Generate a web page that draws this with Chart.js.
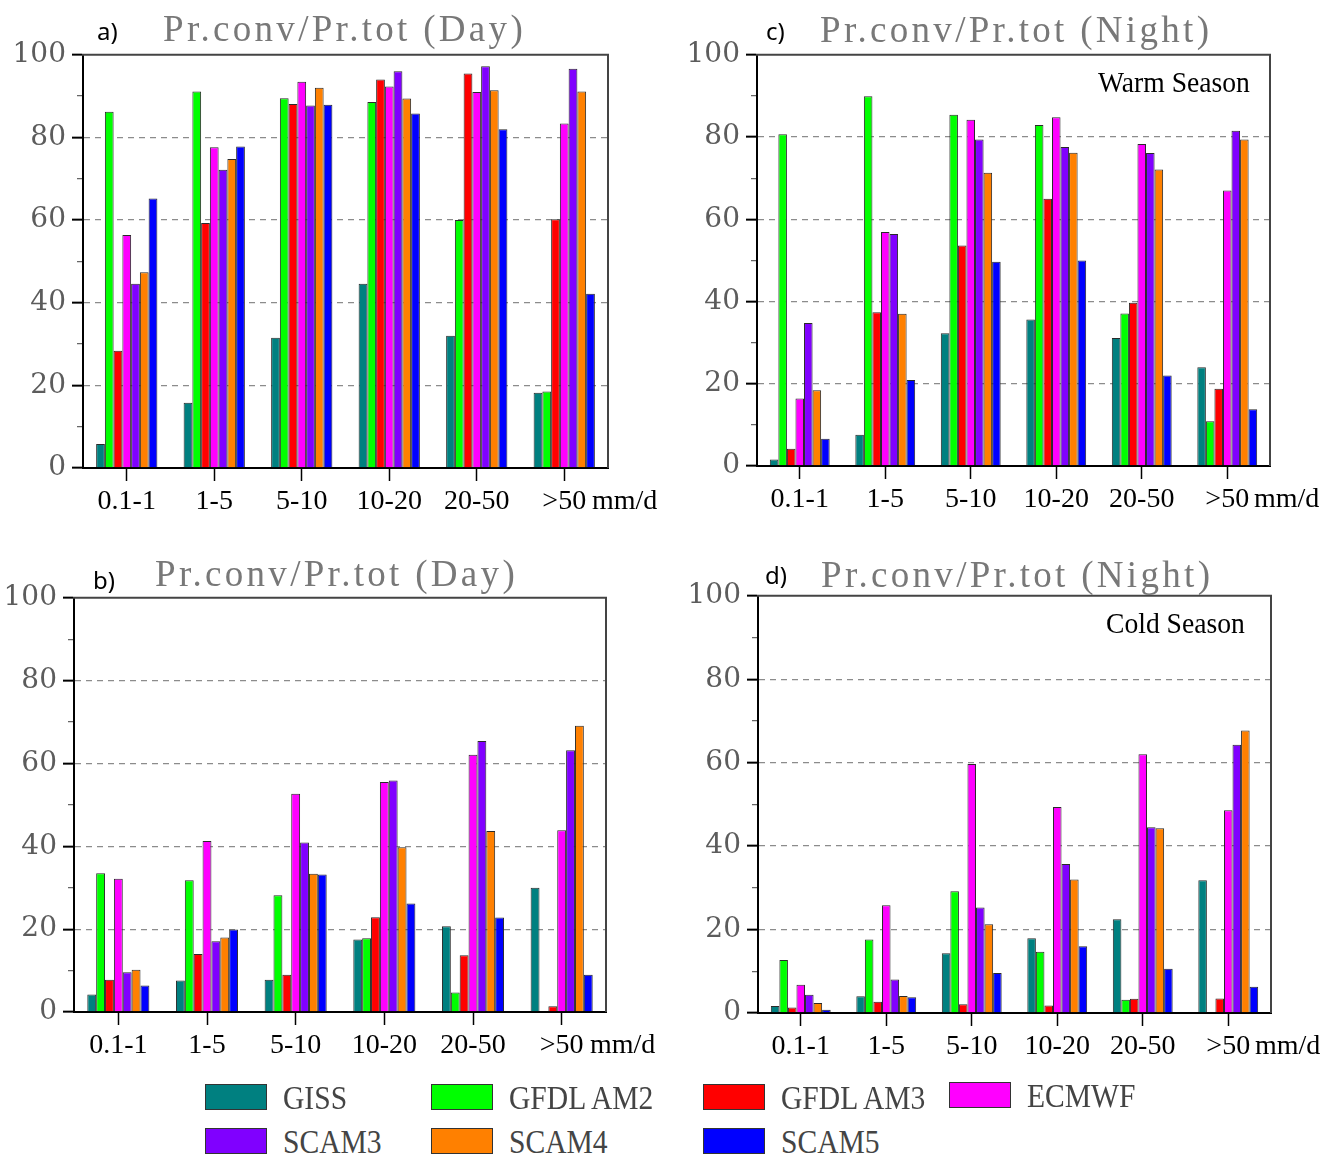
<!DOCTYPE html>
<html>
<head>
<meta charset="utf-8">
<script src="https://cdn.jsdelivr.net/npm/chart.js@4.4.1/dist/chart.umd.min.js"></script>
<style>
  body { margin: 0; background: #fff; width: 1333px; height: 1157px; position: relative; overflow: hidden; }
  .panel { position: absolute; }
  .title { position: absolute; font: 37px "Liberation Serif"; letter-spacing: 3.3px; color: #787878; line-height: 1; white-space: nowrap; }
  .tag { position: absolute; font: 24px "Noto Sans"; color: #000; line-height: 1; }
  .season { position: absolute; font: 30px "Liberation Serif"; color: #000; line-height: 1; white-space: nowrap; transform: scaleX(0.92); transform-origin: 0 0; }
  .unit { position: absolute; font: 28px "Liberation Serif"; color: #000; line-height: 1; white-space: nowrap; }
  .swatch { position: absolute; width: 60px; height: 24px; border: 1px solid #333; }
  .lgtext { position: absolute; font: 34px "Liberation Serif"; color: #444; line-height: 1; white-space: nowrap; transform: scaleX(0.87); transform-origin: 0 0; }
</style>
</head>
<body>
<script>
// precipitation intensity bins (mm/d)
const categories = ['0.1-1', '1-5', '5-10', '10-20', '20-50', '>50'];
const models = ['GISS', 'GFDL AM2', 'GFDL AM3', 'ECMWF', 'SCAM3', 'SCAM4', 'SCAM5'];
const modelColors = ['#008080', '#00ff00', '#ff0000', '#ff00ff', '#8000ff', '#ff8000', '#0000ff'];
const yTicks = [0, 20, 40, 60, 80, 100];

// convective / total precipitation (%), one row per model, warm season daytime
const warmDay = [
  [5.8, 15.8, 31.5, 44.6, 32.0, 18.2],
  [86.2, 91.1, 89.5, 88.6, 60.0, 18.5],
  [28.4, 59.3, 88.1, 94.0, 95.5, 60.2],
  [56.4, 77.6, 93.5, 92.3, 91.0, 83.4],
  [44.6, 72.2, 87.7, 96.0, 97.2, 96.6],
  [47.4, 74.8, 92.0, 89.4, 91.4, 91.1],
  [65.2, 77.8, 87.9, 85.8, 82.0, 42.2]
];
// warm season nighttime
const warmNight = [
  [1.6, 7.6, 32.3, 35.6, 31.1, 24.0],
  [80.7, 89.9, 85.4, 82.9, 37.1, 10.9],
  [4.2, 37.4, 53.6, 65.0, 39.7, 18.8],
  [16.4, 56.9, 84.2, 84.8, 78.3, 67.0],
  [34.8, 56.4, 79.4, 77.6, 76.1, 81.5],
  [18.4, 37.0, 71.3, 76.2, 72.1, 79.4],
  [6.6, 20.9, 49.7, 50.0, 22.0, 13.8]
];
// cold season daytime
const coldDay = [
  [4.2, 7.6, 7.8, 17.5, 20.7, 30.0],
  [33.5, 31.8, 28.2, 17.8, 4.7, null],
  [7.8, 14.0, 9.0, 22.9, 13.7, 1.4],
  [32.2, 41.3, 52.7, 55.5, 62.1, 43.9],
  [9.6, 17.1, 40.9, 55.9, 65.4, 63.2],
  [10.2, 18.0, 33.4, 39.8, 43.7, 69.1],
  [6.4, 19.9, 33.2, 26.2, 22.8, 9.0]
];
// cold season nighttime
const coldNight = [
  [1.7, 4.0, 14.3, 17.9, 22.5, 31.8],
  [12.7, 17.6, 29.2, 14.7, 3.2, null],
  [1.3, 2.7, 2.1, 1.8, 3.4, 3.5],
  [6.8, 25.8, 59.7, 49.4, 62.0, 48.6],
  [4.4, 8.0, 25.3, 35.7, 44.5, 64.3],
  [2.4, 4.1, 21.3, 32.0, 44.3, 67.7],
  [0.8, 3.8, 9.6, 16.0, 10.6, 6.3]
];

const Y_AXIS_W = 74, X_AXIS_H = 70, PAD_TOP = 20, PAD_RIGHT = 12;

// top + right edges of the plot box
const framePlugin = {
  id: 'frame',
  afterDraw(chart) {
    const { ctx, chartArea: a } = chart;
    ctx.save();
    ctx.strokeStyle = '#444';
    ctx.lineWidth = 2;
    ctx.beginPath();
    ctx.moveTo(a.left - 1, a.top);
    ctx.lineTo(a.right, a.top);
    ctx.lineTo(a.right, a.bottom);
    ctx.stroke();
    ctx.restore();
  }
};

function addText(cls, text, left, top) {
  const el = document.createElement('div');
  el.className = cls;
  el.textContent = text;
  el.style.left = left + 'px';
  el.style.top = top + 'px';
  document.body.appendChild(el);
  return el;
}

function makePanel(values, box, tag, title, season) {
  const wrap = document.createElement('div');
  wrap.className = 'panel';
  const w = box.r - box.l + Y_AXIS_W + PAD_RIGHT;
  const h = box.b - box.t + PAD_TOP + X_AXIS_H;
  wrap.style.left = (box.l - Y_AXIS_W) + 'px';
  wrap.style.top = (box.t - PAD_TOP) + 'px';
  const canvas = document.createElement('canvas');
  canvas.width = w;
  canvas.height = h;
  wrap.appendChild(canvas);
  document.body.appendChild(wrap);

  new Chart(canvas.getContext('2d'), {
    type: 'bar',
    data: {
      labels: categories,
      datasets: models.map((m, i) => ({
        label: m,
        data: values[i],
        backgroundColor: modelColors[i],
        borderColor: '#2a2a2a',
        borderWidth: 1,
        barPercentage: 1.0,
        categoryPercentage: 0.70
      }))
    },
    options: {
      responsive: false,
      animation: false,
      devicePixelRatio: 1,
      layout: { padding: { top: PAD_TOP, right: PAD_RIGHT, left: 0, bottom: 0 } },
      plugins: { legend: { display: false }, tooltip: { enabled: false } },
      scales: {
        x: {
          afterFit: s => { s.height = X_AXIS_H; },
          grid: { offset: false, drawOnChartArea: false, drawTicks: true, tickLength: 13, tickColor: '#000', tickWidth: 1.5 },
          border: { display: true, color: '#000', width: 2 },
          ticks: { font: { family: 'Liberation Serif', size: 28 }, color: '#000', padding: 4, maxRotation: 0, autoSkip: false }
        },
        y: {
          min: 0,
          max: 100,
          afterFit: s => { s.width = Y_AXIS_W; },
          grid: {
            color: c => (c.tick && c.tick.value > 0 && c.tick.value < 100 && yTicks.includes(c.tick.value)) ? '#8c8c8c' : 'rgba(0,0,0,0)',
            lineWidth: 1.3,
            drawTicks: true,
            tickLength: 11,
            tickWidth: c => yTicks.includes(c.tick.value) ? 2 : 1.2,
            tickColor: c => yTicks.includes(c.tick.value) ? '#000' : '#666',
            tickBorderDash: c => yTicks.includes(c.tick.value) ? [] : [0, 5, 6, 100]
          },
          border: { display: true, color: '#000', width: 2, dash: [6, 5] },
          ticks: {
            stepSize: 10,
            autoSkip: false,
            padding: 6,
            font: { family: 'DejaVu Serif', size: 28 },
            color: '#5c5c5c',
            callback: v => yTicks.includes(v) ? String(v) : ''
          }
        }
      }
    },
    plugins: [framePlugin]
  });

  addText('tag', tag.text, tag.x, tag.y);
  addText('title', title.text, title.x, title.y);
  addText('unit', 'mm/d', box.r - 16, box.b + 18);
  if (season) addText('season', season.text, season.x, season.y);
}

makePanel(warmDay, { l: 83, t: 52, r: 608, b: 468 },
  { text: 'a)', x: 97, y: 19 }, { text: 'Pr.conv/Pr.tot (Day)', x: 163, y: 10 }, null);
makePanel(warmNight, { l: 757, t: 52, r: 1270, b: 466 },
  { text: 'c)', x: 766, y: 19 }, { text: 'Pr.conv/Pr.tot (Night)', x: 820, y: 11 },
  { text: 'Warm Season', x: 1098, y: 67 });
makePanel(coldDay, { l: 74, t: 595, r: 606, b: 1012 },
  { text: 'b)', x: 93, y: 568 }, { text: 'Pr.conv/Pr.tot (Day)', x: 155, y: 555 }, null);
makePanel(coldNight, { l: 758, t: 593, r: 1271, b: 1013 },
  { text: 'd)', x: 765, y: 563 }, { text: 'Pr.conv/Pr.tot (Night)', x: 821, y: 556 },
  { text: 'Cold Season', x: 1106, y: 608 });

// shared legend, two rows
const legendSlots = [[205, 1084], [431, 1084], [703, 1084], [949, 1082], [205, 1128], [431, 1128], [703, 1128]];
models.forEach((m, i) => {
  const [x, y] = legendSlots[i];
  const sw = document.createElement('div');
  sw.className = 'swatch';
  sw.style.left = x + 'px';
  sw.style.top = y + 'px';
  sw.style.background = modelColors[i];
  document.body.appendChild(sw);
  addText('lgtext', m, x + 78, y - 3);
});
</script>
</body>
</html>
